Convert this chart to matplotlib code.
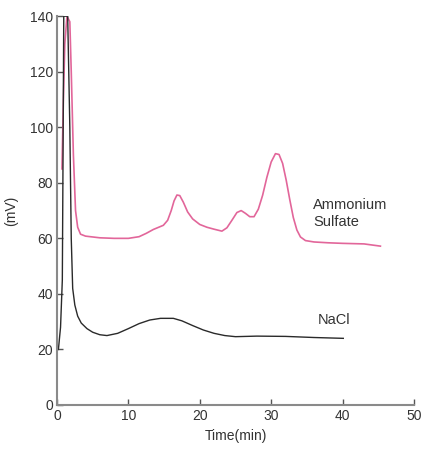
import matplotlib
matplotlib.use("Agg")
import matplotlib.pyplot as plt

nacl_t = [0.2, 0.5, 0.75, 0.85, 0.95, 1.5, 1.8, 2.0, 2.2, 2.5, 2.9, 3.4, 4.2, 5.0, 6.0, 7.0, 8.5, 10.0, 11.5, 13.0, 14.5, 16.3, 17.5, 19.0, 20.5, 22.0, 23.5, 25.0, 28.0, 32.0, 36.0, 40.1]
nacl_v = [20, 28, 45, 90, 140, 140, 100, 60, 42, 36, 32, 29.5, 27.5, 26.2, 25.3, 25.0, 25.8, 27.5, 29.3, 30.6, 31.2, 31.2, 30.3, 28.6, 27.0, 25.8, 25.0, 24.6, 24.8, 24.7, 24.3, 24.0]

amm_t = [0.7, 0.9, 1.1, 1.4, 1.8, 2.0, 2.3, 2.6, 2.9, 3.3, 4.0, 6.0, 8.0, 10.0, 11.5, 12.5, 13.5, 14.9, 15.5, 16.0, 16.4, 16.8, 17.2, 17.7, 18.3, 19.0, 20.0, 21.0, 22.0, 23.1, 23.8, 24.5, 25.2, 25.8, 26.4, 27.0, 27.6, 28.2, 28.8, 29.4, 30.0, 30.6, 31.1, 31.6, 32.1, 32.6, 33.1, 33.6, 34.1, 34.8, 36.0, 38.0, 40.0, 43.0, 45.3]
amm_v = [85, 110, 130, 140, 138, 120, 90, 70, 64, 61.5, 60.8, 60.2, 60.0, 60.0, 60.6, 61.8, 63.2, 64.7, 66.5, 70.0, 73.5, 75.6, 75.4, 73.0, 69.5, 67.0, 65.0, 64.0, 63.3, 62.6, 63.8, 66.5, 69.3, 70.0, 69.0, 67.8, 67.8, 70.5, 75.5, 82.0, 87.5, 90.5, 90.2, 87.0, 81.0, 74.0, 67.5, 63.0, 60.5, 59.2, 58.7, 58.4, 58.2, 58.0, 57.2]

x_ticks = [0, 10, 20, 30, 40, 50]
y_ticks = [0, 20, 40, 60, 80, 100, 120, 140]

plt.rcParams['font.family'] = ['Liberation Sans', 'DejaVu Sans']

fig = plt.figure(figsize=(4.22, 4.49), dpi=100)
ax = fig.add_axes([0.135, 0.098, 0.846, 0.866])

ax.plot(amm_t, amm_v, color='#e2669a', lw=1.2)
ax.plot(nacl_t, nacl_v, color='#2a2a2a', lw=1.0)

ax.set_xlim(0, 50)
ax.set_ylim(0, 140)
ax.set_xticks(x_ticks)
ax.set_yticks(y_ticks)
for s in ['top', 'right']:
    ax.spines[s].set_visible(False)
for s in ['left', 'bottom']:
    ax.spines[s].set_color('#8a8a8a')
    ax.spines[s].set_linewidth(1.5)
ax.tick_params(direction='in', length=4, width=1, color='#555555', labelsize=10, labelcolor='#333333', pad=3)

ax.set_xlabel('Time(min)', fontsize=10, color='#333333', labelpad=4)
ax.set_ylabel('(mV)', fontsize=10, color='#333333', labelpad=8)

ax.text(35.9, 69, 'Ammonium\nSulfate', fontsize=10.5, color='#333333', va='center', ha='left', linespacing=1.3)
ax.text(36.5, 30.5, 'NaCl', fontsize=10.5, color='#333333', va='center', ha='left')

fig.savefig('out.png', dpi=100)
